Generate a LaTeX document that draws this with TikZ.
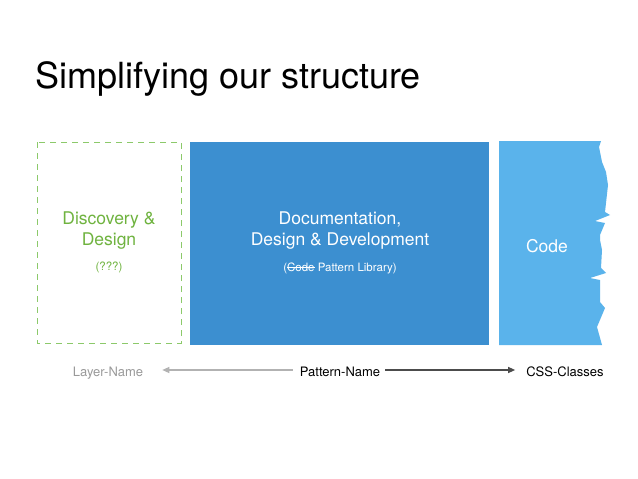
\documentclass[tikz,border=0pt]{standalone}
\usepackage{fontspec}
\setmainfont{TeX Gyre Heros}
\usetikzlibrary{arrows.meta}
\newcommand\mystrike[1]{\setbox0\hbox{#1}\rlap{\rule[0.32em]{\wd0}{0.6pt}}\box0\relax}
\definecolor{docblue}{HTML}{3C8FD0}
\definecolor{codeblue}{HTML}{5AB3EB}
\definecolor{discgreen}{HTML}{6FB33F}
\definecolor{dashgreen}{HTML}{8CC96A}
\definecolor{laygray}{HTML}{9A9A9A}
\tikzset{
  boxtext/.style={align=center, font=\fontsize{17.5}{21}\selectfont, inner sep=0pt},
  subtext/.style={font=\fontsize{11.5}{13}\selectfont, inner sep=0pt},
  rowtext/.style={font=\fontsize{13}{15}\selectfont, inner sep=0pt, anchor=base},
}
\begin{document}
\begin{tikzpicture}[x=1pt,y=-1pt]
\useasboundingbox (0,0) rectangle (638,479);
\fill[white] (0,0) rectangle (638,479);
% title
\node[anchor=base west, inner sep=0pt, font=\fontsize{36}{42}\selectfont] (title) at (35,88) {Simplifying our structure};
% discovery box
\draw[dashgreen, line width=0.9pt, dash pattern=on 6pt off 5pt] (37,142) rectangle (181,343);
\node[boxtext, text=discgreen] (disctext) at (109,231) {Discovery \&\\Design};
\node[subtext, text=discgreen] (discsub) at (109,267) {(???)};
% documentation box
\fill[docblue] (190,142) rectangle (489,345);
\node[boxtext, text=white] (doctext) at (340,231) {Documentation,\\Design \& Development};
\node[subtext, text=white] (docsub) at (340,268) {(\mystrike{Code} Pattern Library)};
% code box with jagged edge
\fill[codeblue] (499,141) -- (601,141) -- (599,147) -- (602,162) -- (606,172) -- (608,185)
  -- (605,212) -- (610,215) -- (595,221) -- (605,223) -- (600,235) -- (600,240)
  -- (602,250) -- (601,268) -- (606,273) -- (590,278) -- (600,280) -- (600,302)
  -- (605,308) -- (597,327) -- (602,345) -- (499,345) -- cycle;
\node[boxtext, text=white] (codetext) at (547,246) {Code};
% bottom row
\node[rowtext, text=laygray] (layer) at (108,376) {Layer-Name};
\node[rowtext, text=black] (pattern) at (340,376) {Pattern-Name};
\node[rowtext, text=black] (css) at (565,376) {CSS-Classes};
\draw[black!30, line width=1.2pt, -{Triangle[length=7pt,width=6pt]}, shorten <=7pt, shorten >=19pt] (pattern.west |- 0,370) -- (layer.east |- 0,370);
\draw[black!70, line width=1.3pt, -{Triangle[length=7pt,width=6pt]}, shorten <=5pt, shorten >=11pt] (pattern.east |- 0,370) -- (css.west |- 0,370);
\end{tikzpicture}
\end{document}
